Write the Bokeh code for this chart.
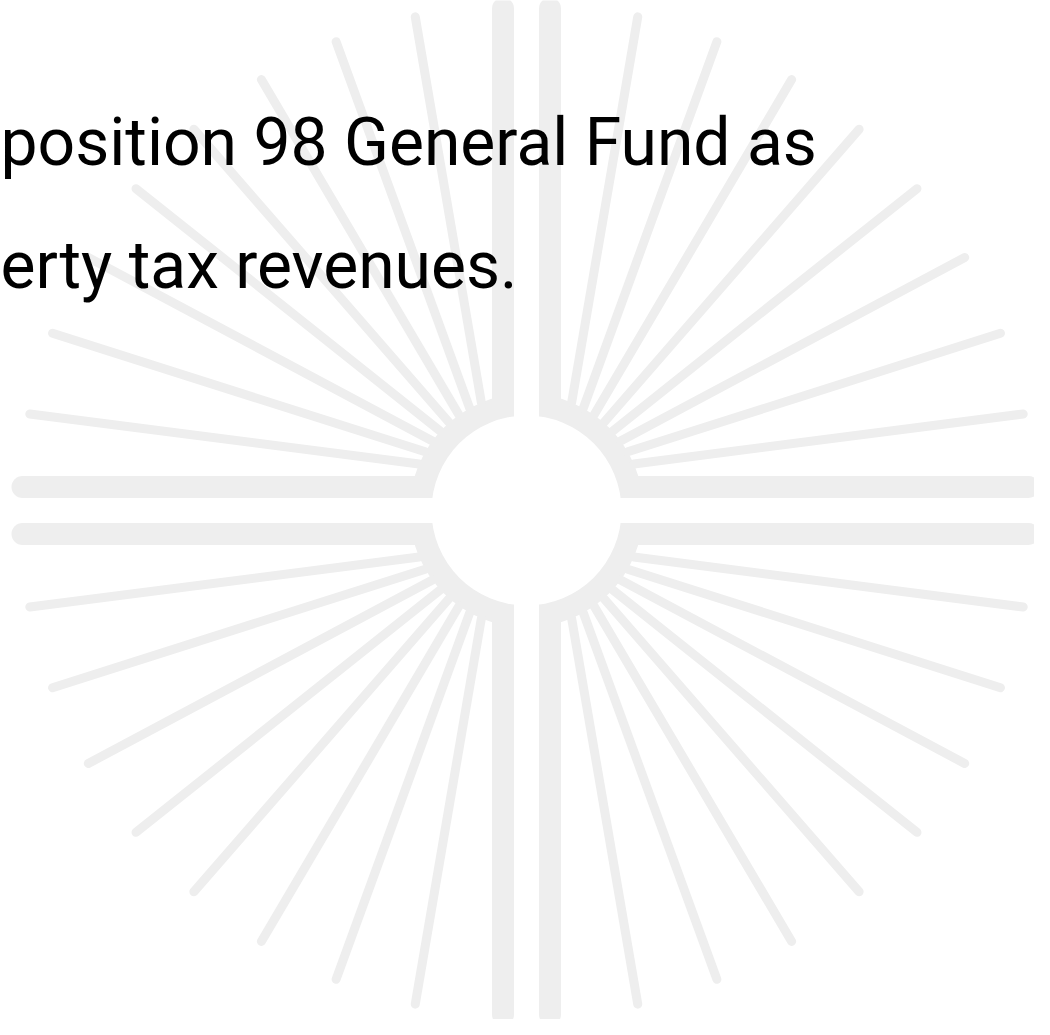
import numpy as np
from bokeh.plotting import figure
from bokeh.models import Range1d
from bokeh.embed import file_html
from bokeh.resources import INLINE
from bokeh.core.properties import value

# ---- data ----
ray_end_angles_deg = [11.0, 20.5, 30.0, 39.5, 48.9, 58.4, 67.9, 77.3]   # per quadrant, from horizontal
ray_end_radius = 506
ray_start_radius = 117
quadrant_signs = [(1, -1), (-1, -1), (-1, 1), (1, 1)]   # (x sign, y sign) screen coords, y down
text_lines = ["position 98 General Fund as", "erty tax revenues."]
text_left_x = [8, 8]
text_baseline_y = [150, 273]

# ---- geometry / style ----
cx, cy = 534.0, 518.0
disc_r = 95
ring_r = 117
bar_off = 23.5
bar_w = 22
origin_off = (33.0, 37.0)
grey = "#eeeeee"

W, H = 1034, 1019
p = figure(width=W, height=H, x_range=Range1d(8, 8 + W), y_range=Range1d(8 + H, 8),
           output_backend="svg", toolbar_location=None, x_axis_type=None, y_axis_type=None,
           min_border=0, outline_line_color=None, background_fill_color="white",
           border_fill_color="white")
p.grid.visible = False

# grey ring around the central disc
p.annulus(x=[cx], y=[cy], inner_radius=disc_r - 5, outer_radius=ring_r,
          fill_color=grey, line_color=None)

# white slits between the paired bars
gap = 2 * bar_off - bar_w
p.rect(x=[cx, cx], y=[cy, cy], width=[gap, 2 * ring_r + 20], height=[2 * ring_r + 20, gap],
       fill_color="white", line_color=None)

# paired cross bars
p.segment(x0=[cx - bar_off, cx + bar_off], y0=[16, 16], x1=[cx - bar_off, cx + bar_off], y1=[1022, 1022],
          line_width=bar_w, line_color=grey, line_cap="round")
p.segment(x0=[30, 30], y0=[cy - bar_off, cy + bar_off], x1=[1036, 1036], y1=[cy - bar_off, cy + bar_off],
          line_width=bar_w, line_color=grey, line_cap="round")

# rays
x0s, y0s, x1s, y1s = [], [], [], []
for sx, sy in quadrant_signs:
    ox, oy = cx + sx * origin_off[0], cy + sy * origin_off[1]
    for a in ray_end_angles_deg:
        r = np.deg2rad(a)
        ex = cx + sx * ray_end_radius * np.cos(r)
        ey = cy + sy * ray_end_radius * np.sin(r)
        ux, uy = ex - ox, ey - oy
        n = np.hypot(ux, uy)
        ux, uy = ux / n, uy / n
        dx, dy = ox - cx, oy - cy
        b = ux * dx + uy * dy
        t = -b + np.sqrt(b * b - (dx * dx + dy * dy) + ray_start_radius ** 2)
        x0s.append(ox + t * ux); y0s.append(oy + t * uy)
        x1s.append(ex); y1s.append(ey)
p.segment(x0=x0s, y0=y0s, x1=x1s, y1=y1s, line_width=9, line_color=grey, line_cap="round")

# white central disc
p.circle(x=[cx], y=[cy], radius=disc_r, fill_color="white", line_color=None)

# text
p.text(x=text_left_x, y=text_baseline_y, text=text_lines, text_align="left",
       text_baseline="alphabetic", text_font=value("Roboto"), text_font_size="66px",
       text_color="black")

open("out.html", "w").write(file_html(p, INLINE))
